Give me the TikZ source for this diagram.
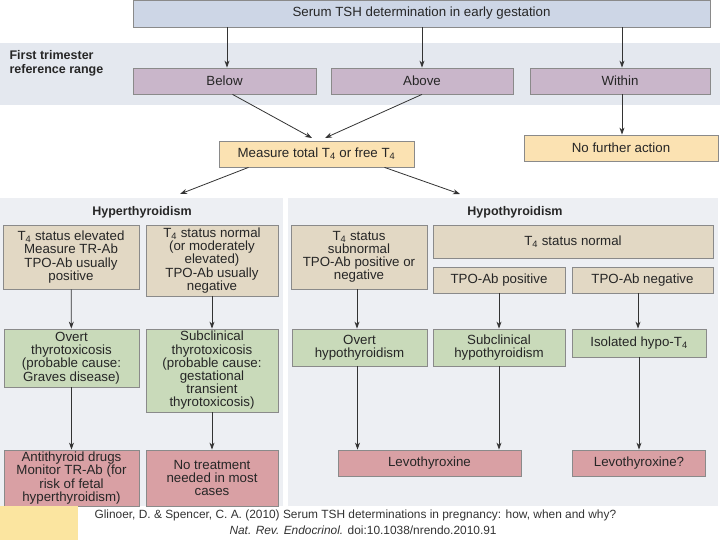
\documentclass[tikz,border=0pt]{standalone}
\usepackage{fontspec}
\setmainfont{Liberation Sans}
\usetikzlibrary{arrows.meta}
\definecolor{topc}{HTML}{CDD6E6}
\definecolor{bandc}{HTML}{E4E8EF}
\definecolor{purp}{HTML}{C9B6CA}
\definecolor{orng}{HTML}{FBE2B2}
\definecolor{beig}{HTML}{E2D8C4}
\definecolor{grn}{HTML}{C9DABA}
\definecolor{redc}{HTML}{D9A0A4}
\definecolor{panel}{HTML}{EDEFF3}
\definecolor{bord}{HTML}{8A8A8A}
\begin{document}
\begin{tikzpicture}[x=1pt,y=-1pt,
 bx/.style={draw=bord,line width=0.8pt,inner sep=1pt,align=center,font=\fontsize{13.3}{13.2}\selectfont,text=black!85},
 ar/.style={-{Stealth[length=7pt,width=5pt]},line width=0.8pt,black!80},
 hd/.style={font=\fontsize{12.5}{14}\selectfont\bfseries,text=black!85}]
\useasboundingbox (0,0) rectangle (720,540);
\fill[white] (0,0) rectangle (720,540);
% band
\fill[bandc] (0,43) rectangle (720,105);
\node[hd,anchor=north west,align=left] (lab) at (6,47) {First trimester\\reference range};
% panels
\fill[panel] (0,198) rectangle (283,506);
\fill[panel] (288,198) rectangle (718,506);
\node[hd] (hyper) at (142,212) {Hyperthyroidism};
\node[hd] (hypo) at (515,212) {Hypothyroidism};
% top
\node[bx,fill=topc,minimum width=577pt,minimum height=27pt] (tsh) at (421.5,13.5) {Serum TSH determination in early gestation};
\node[bx,fill=purp,minimum width=183pt,minimum height=26pt] (below) at (224.5,81) {Below};
\node[bx,fill=purp,minimum width=182pt,minimum height=26pt] (above) at (422,81) {Above};
\node[bx,fill=purp,minimum width=180pt,minimum height=26pt] (within) at (620,81) {Within};
\node[bx,fill=orng,minimum width=195pt,minimum height=26pt] (meas) at (316.5,154) {Measure total T\textsubscript{4} or free T\textsubscript{4}};
\node[bx,fill=orng,minimum width=194pt,minimum height=26pt] (nfa) at (621,148) {No further action};
\draw[ar] (tsh.south -| below) ++(2.5,0) coordinate (t1) -- (t1 |- below.north);
\draw[ar] (tsh.south -| above) -- (above.north);
\draw[ar] (tsh.south -| within) ++(2,0) coordinate (t3) -- (t3 |- within.north);
\draw[ar] (within.south) ++(2,0) coordinate (w1) -- (w1 |- nfa.north);
\draw[ar] (below.south) ++(8,0) coordinate (b1) -- (312,138);
\draw[ar] (above.south) -- (325,138);
\coordinate (hl) at (180,194);
\coordinate (hr) at (460,194);
\draw[ar] (meas.south) ++(-68,0) coordinate (m1) -- (hl);
\draw[ar] (meas.south) ++(68,0) coordinate (m2) -- (hr);
% hyper column
\node[bx,fill=beig,minimum width=136pt,minimum height=64pt] (l1) at (71,257) {T\textsubscript{4} status elevated\\Measure TR-Ab\\TPO-Ab usually\\positive};
\node[bx,fill=beig,minimum width=132pt,minimum height=71pt] (r1) at (212,260.5) {T\textsubscript{4} status normal\\(or moderately\\elevated)\\TPO-Ab usually\\negative};
\node[bx,fill=grn,minimum width=135pt,minimum height=58pt] (l2) at (71.5,358) {Overt\\thyrotoxicosis\\(probable cause:\\Graves disease)};
\node[bx,fill=grn,minimum width=132pt,minimum height=83pt] (r2) at (212,370.5) {Subclinical\\thyrotoxicosis\\(probable cause:\\gestational\\transient\\thyrotoxicosis)};
\node[bx,fill=redc,minimum width=135pt,minimum height=56pt] (l3) at (71.5,478) {Antithyroid drugs\\Monitor TR-Ab (for\\risk of fetal\\hyperthyroidism)};
\node[bx,fill=redc,minimum width=132pt,minimum height=56pt] (r3) at (212,478) {No treatment\\needed in most\\cases};
\draw[ar] (l1) -- (l2);
\draw[ar] (r1) -- (r2);
\draw[ar] (l2) -- (l3);
\draw[ar] (r2) -- (r3);
% hypo column
\node[bx,fill=beig,minimum width=136pt,minimum height=64pt] (h1) at (359,257) {T\textsubscript{4} status\\subnormal\\TPO-Ab positive or\\negative};
\node[bx,fill=beig,minimum width=280pt,minimum height=33pt] (h2) at (573,241.5) {T\textsubscript{4} status normal};
\node[bx,fill=beig,minimum width=132pt,minimum height=26pt] (h3) at (499,280) {TPO-Ab positive};
\node[bx,fill=beig,minimum width=141pt,minimum height=26pt] (h4) at (642.5,280) {TPO-Ab negative};
\node[bx,fill=grn,minimum width=135pt,minimum height=37pt] (g1) at (359.5,347.5) {Overt\\hypothyroidism};
\node[bx,fill=grn,minimum width=132pt,minimum height=37pt] (g2) at (499,347.5) {Subclinical\\hypothyroidism};
\node[bx,fill=grn,minimum width=134pt,minimum height=28pt] (g3) at (639,343) {Isolated hypo-T\textsubscript{4}};
\node[bx,fill=redc,minimum width=183pt,minimum height=26pt] (lv1) at (429.5,463) {Levothyroxine};
\node[bx,fill=redc,minimum width=133pt,minimum height=26pt] (lv2) at (639,463) {Levothyroxine?};
\draw[ar] (h1.south) ++(-2,0) coordinate (a1) -- (a1 |- g1.north);
\draw[ar] (h3) -- (g2);
\draw[ar] (h4.south) ++(-4.5,0) coordinate (a2) -- (a2 |- g3.north);
\draw[ar] (g1.south) ++(-2,0) coordinate (a3) -- (a3 |- lv1.north);
\draw[ar] (g2) -- (g2 |- lv1.north);
\draw[ar] (g3) -- (lv2);
% citation
\fill[orng!90!yellow] (0,506) rectangle (78,540);
\node[anchor=west,font=\fontsize{11.9}{12}\selectfont,text=black!80] (cit1) at (91,515) {Glinoer, D. \& Spencer, C. A. (2010) Serum TSH determinations in pregnancy: how, when and why?};
\node[anchor=west,font=\fontsize{11.9}{12}\selectfont,text=black!80] (cit2) at (226,530) {\textit{Nat. Rev. Endocrinol.} doi:10.1038/nrendo.2010.91};
\end{tikzpicture}
\end{document}
